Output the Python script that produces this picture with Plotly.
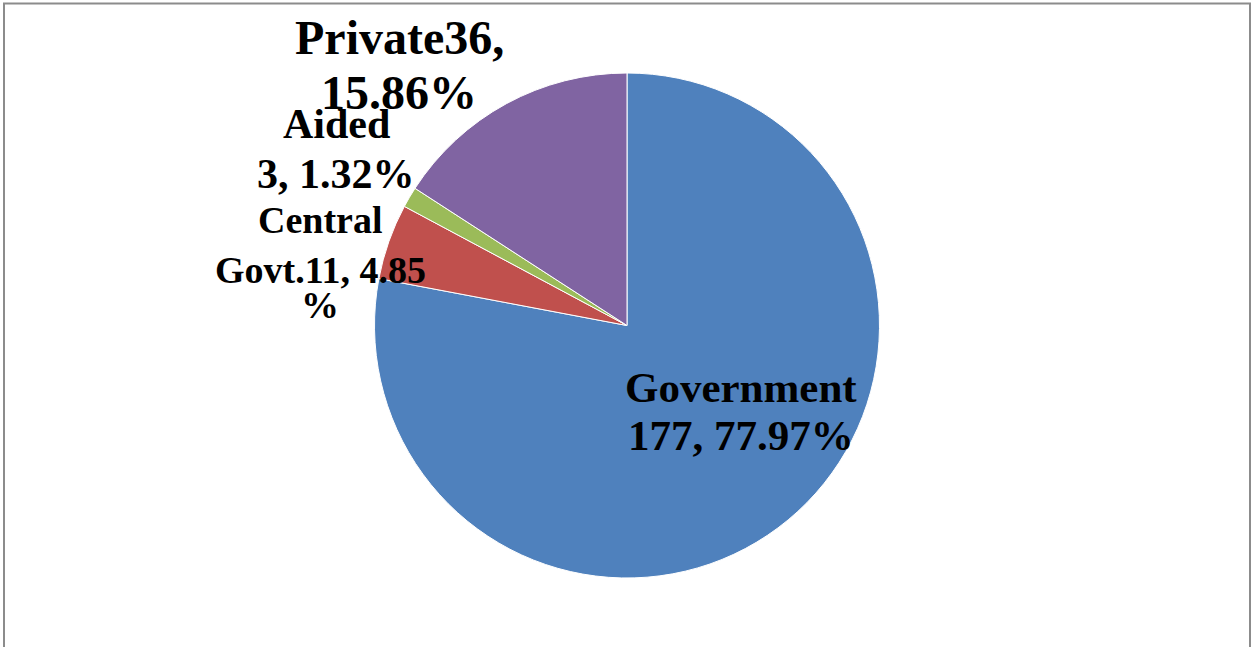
import plotly.graph_objects as go

# School management categories and counts
categories = ["Government", "Central Govt.", "Aided", "Private"]
counts = [177, 11, 3, 36]
colors = ["#4F81BD", "#C0504D", "#9BBB59", "#8064A2"]

W, H = 1252, 647
total = sum(counts)
pcts = [round(100 * c / total, 2) for c in counts]

# Data label lines for each slice (wrapped as laid out on the chart)
label_lines = {
    "Government": ["Government", f"{counts[0]}, {pcts[0]:.2f}%"],
    "Central Govt.": ["Central", f"Govt.{counts[1]}, {pcts[1]:.2f}", "%"],
    "Aided": ["Aided", f"{counts[2]}, {pcts[2]:.2f}%"],
    "Private": [f"Private{counts[3]},", f"{pcts[3]:.2f}%"],
}
# label placement: centre x, baselines (px), font size
label_pos = {
    "Government": (741, [402, 450], 43),
    "Central Govt.": (320, [233, 283, 318], 38),
    "Aided": (336, [138, 188], 42),
    "Private": (399, [53, 108], 48),
}

cx, cy, r = 627, 325.5, 252.5

fig = go.Figure(go.Pie(
    labels=categories,
    values=counts,
    sort=False,
    direction="clockwise",
    rotation=0,
    marker=dict(colors=colors, line=dict(color="#FFFFFF", width=1)),
    textinfo="none",
    hoverinfo="label+value+percent",
    showlegend=False,
    domain=dict(x=[(cx - r) / W, (cx + r) / W], y=[1 - (cy + r) / H, 1 - (cy - r) / H]),
))

annotations = []
for name in categories:
    x, baselines, fs = label_pos[name]
    for line, base in zip(label_lines[name], baselines):
        annotations.append(dict(
            x=x / W, y=1 - (base - 0.33 * fs) / H, xref="paper", yref="paper",
            xanchor="center", yanchor="middle", showarrow=False, text=f"<b>{line}</b>",
            font=dict(family="Liberation Serif, Times New Roman, serif", size=fs, color="#000000"),
        ))

fig.update_layout(
    width=W, height=H,
    margin=dict(l=0, r=0, t=0, b=0),
    paper_bgcolor="#FFFFFF",
    plot_bgcolor="#FFFFFF",
    annotations=annotations,
    shapes=[dict(type="rect", xref="paper", yref="paper",
                 x0=4 / W, x1=1250 / W, y0=-0.02, y1=1 - 3.5 / H,
                 line=dict(color="#8C8C8C", width=2), fillcolor="rgba(0,0,0,0)", layer="below")],
)

fig.write_html("out.html")
